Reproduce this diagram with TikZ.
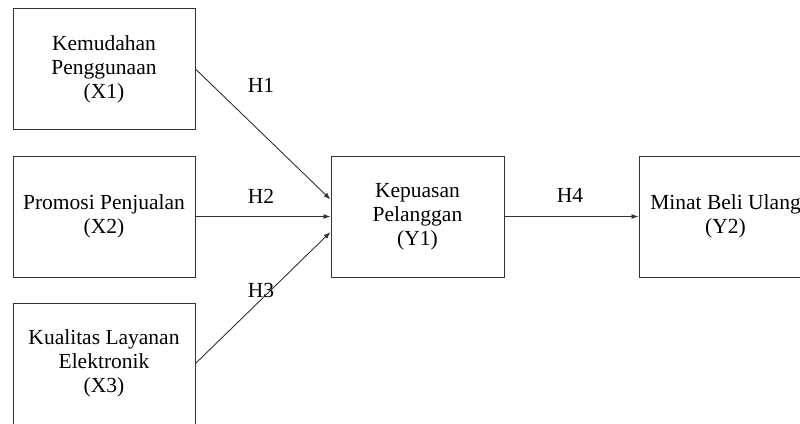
\documentclass[tikz,border=0pt]{standalone}
\usepackage{fontspec}
\setmainfont{Liberation Serif}
\usetikzlibrary{arrows.meta,calc}
\begin{document}
\begin{tikzpicture}[x=1pt,y=-1pt,
  box/.style={draw=black!80, line width=1pt, minimum width=182pt, minimum height=121pt, inner sep=0pt, align=center, font=\fontsize{21.5}{24}\selectfont},
  ybox/.style={box, minimum width=173pt},
  lbl/.style={font=\fontsize{21.5}{24}\selectfont, inner sep=0pt},
  arr/.style={draw=black!80, line width=0.9pt, -{Latex[length=7pt,width=5pt]}}]
\useasboundingbox (0,0) rectangle (800,423);
\begin{scope}
\clip (0,0) rectangle (800,423);
\node[box] (x1) at (104,69) {Kemudahan\\Penggunaan\\(X1)};
\node[box] (x2) at (104,216.5) {Promosi Penjualan\\(X2)};
\node[box] (x3) at (104,363.5) {Kualitas Layanan\\Elektronik\\(X3)};
\node[ybox] (y1) at (417.5,216.5) {Kepuasan\\Pelanggan\\(Y1)};
\node[ybox] (y2) at (725.5,216.5) {Minat Beli Ulang\\(Y2)};
\end{scope}
\coordinate (y1a) at ($(y1.west)+(0,-17)$);
\coordinate (y1c) at ($(y1.west)+(0,15.5)$);
\draw[arr] (x1.east) -- (y1a);
\draw[arr] (x2.east) -- (y1.west);
\draw[arr] (x3.east) -- (y1c);
\draw[arr] (y1.east) -- (y2.west);
\node[lbl] (h1) at (261,85) {H1};
\node[lbl] (h2) at (261,196) {H2};
\node[lbl] (h3) at (261,290) {H3};
\node[lbl] (h4) at (570,195) {H4};
\end{tikzpicture}
\end{document}
